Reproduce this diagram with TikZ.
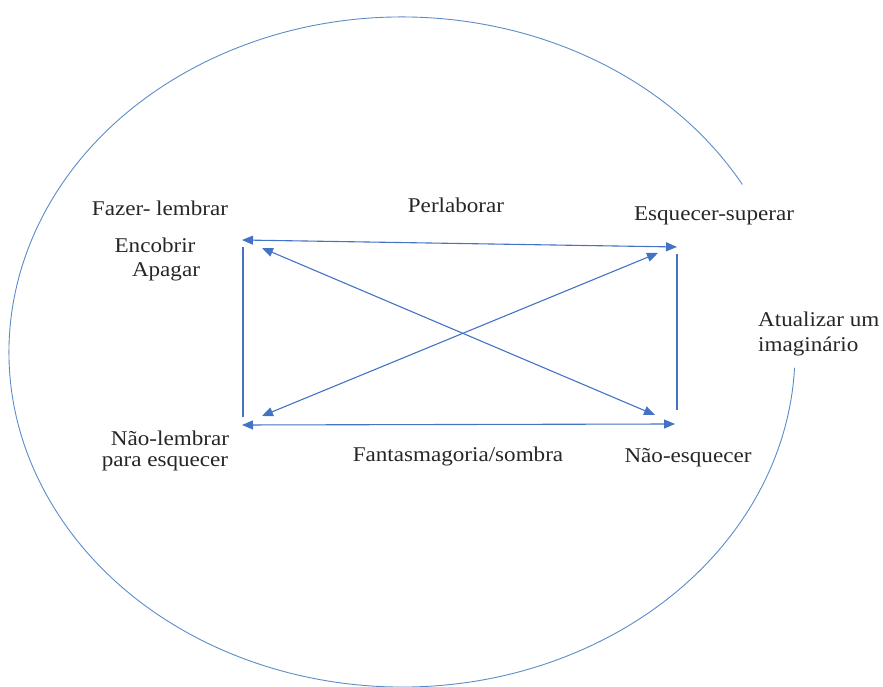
\documentclass[tikz,border=0pt]{standalone}
\usepackage{fontspec}
\setmainfont{Liberation Serif}[FakeStretch=1.1]
\usepackage{xcolor}
\usetikzlibrary{arrows.meta}
\definecolor{linkblue}{RGB}{68,114,196}
\definecolor{ringblue}{RGB}{91,140,200}

\begin{document}
\begin{tikzpicture}[
    x=1pt, y=1pt,
    lbl/.style={
        inner sep=0pt,
        anchor=base,
        font=\fontsize{21}{23}\selectfont,
        text=black!85
    },
    link/.style={
        draw=linkblue,
        line width=1.1pt,
        {Triangle[length=11pt,width=9pt]}-{Triangle[length=11pt,width=9pt]}
    },
    side/.style={
        draw=linkblue,
        line width=1.1pt
    },
    ring/.style={
        draw=ringblue,
        line width=0.9pt
    }
]
  \useasboundingbox (0,0) rectangle (883,687);

  \node[lbl] (fazer) at (160,471) {Fazer- lembrar};
  \node[lbl] (encobrir) at (155,434) {Encobrir};
  \node[lbl] (apagar) at (166,410) {Apagar};
  \node[lbl] (perlaborar) at (456,474) {Perlaborar};
  \node[lbl] (superar) at (714,466) {Esquecer-superar};
  \node[lbl, anchor=base west] (atualizar) at (758,360) {Atualizar um};
  \node[lbl, anchor=base west] (imaginario) at (758,335) {imagin\'ario};
  \node[lbl] (naolembrar) at (170,241) {N\~ao-lembrar};
  \node[lbl] (paraesquecer) at (165,220) {para esquecer};
  \node[lbl] (sombra) at (458,225) {Fantasmagoria/sombra};
  \node[lbl] (naoesquecer) at (688,224) {N\~ao-esquecer};

  \coordinate (topL) at (242,447);
  \coordinate (topR) at (677,440);
  \coordinate (leftT) at (243,440);
  \coordinate (leftB) at (243,270);
  \coordinate (rightT) at (677,433);
  \coordinate (rightB) at (677,277);
  \coordinate (botL) at (242,262);
  \coordinate (botR) at (675,263);
  \coordinate (diagAT) at (262,439);
  \coordinate (diagAB) at (655,272);
  \coordinate (diagBB) at (262,271);
  \coordinate (diagBT) at (658,434);

  \draw[link] (topL) -- (topR);
  \draw[link] (botL) -- (botR);
  \draw[link] (diagAT) -- (diagAB);
  \draw[link] (diagBB) -- (diagBT);
  \draw[side] (leftT) -- (leftB);
  \draw[side] (rightT) -- (rightB);

  \draw[ring] (402,335) ++(30:393 and 335)
    arc[start angle=30, end angle=357.3, x radius=393, y radius=335];
\end{tikzpicture}
\end{document}
